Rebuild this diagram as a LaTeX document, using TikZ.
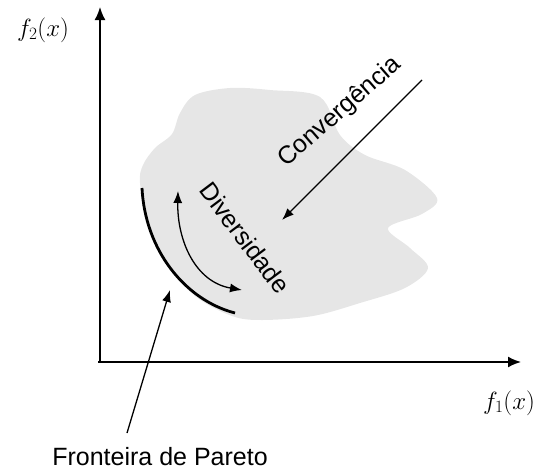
\documentclass[tikz,border=0pt]{standalone}
\usepackage{amsmath,amssymb}
\usepackage{fontspec}
\setmainfont{Liberation Sans}
\usepackage{tikz}
\usetikzlibrary{arrows.meta, positioning}

\definecolor{blobgray}{RGB}{230,230,230}

\begin{document}
\begin{tikzpicture}[
    x=1pt, y=-1pt,
    axis/.style={line width=1.8pt, -{Latex[length=13pt, width=11pt]}},
    arrow/.style={line width=1.3pt, -{Latex[length=12pt, width=9pt]}},
    twoway/.style={line width=1.3pt, {Latex[length=12pt, width=9pt]}-{Latex[length=12pt, width=9pt]}},
    front/.style={line width=2.8pt},
    lbl/.style={font=\fontsize{25}{29}\selectfont, inner sep=0pt},
    mathlbl/.style={font=\fontsize{26}{30}\selectfont, inner sep=0pt}
]
\useasboundingbox (0,0) rectangle (541,469);

% region of solutions
\fill[blobgray] plot[smooth cycle, tension=0.55] coordinates {
    (140,183) (143,165) (155,148) (172,134) (180,113) (195,95) (230,88)
    (270,90) (320,97) (340,135) (365,155) (405,170) (437,198) (422,214)
    (388,228) (410,248) (428,268) (405,288) (360,303) (313,316) (262,320)
    (232,316) (195,296) (165,262) (148,225)};

% axes
\coordinate (O) at (100,362);
\coordinate (ytip) at (100,7);
\coordinate (xtip) at (521,362);
\draw[axis] (O) -- (ytip);
\draw[axis] ([xshift=-2pt]O) -- (xtip);

\node[mathlbl] (f1) at (509,403) {$f_1(x)$};
\node[mathlbl] (f2) at (43,30) {$f_2(x)$};

% pareto front
\coordinate (pfa) at (142,188);
\coordinate (pfb) at (235,313);
\draw[front] (pfa) .. controls (145,250) and (185,300) .. (pfb);

% diversity
\coordinate (divtop) at (178,191);
\coordinate (divbot) at (242,290);
\draw[twoway] (divtop) .. controls (177,240) and (195,282) .. (divbot);
\node[lbl, rotate=-53] (div) at (245,238) {Diversidade};

% convergence
\coordinate (convstart) at (422,80);
\coordinate (convend) at (282,220);
\draw[arrow] (convstart) -- (convend);
\node[lbl, rotate=41] (conv) at (340,112) {Convergência};

% label of the front
\node[lbl, anchor=base] (pareto) at (160,465) {Fronteira de Pareto};
\coordinate (pftail) at (127,433);
\coordinate (pftip) at (170,290);
\draw[arrow] (pftail) -- (pftip);
\end{tikzpicture}
\end{document}
